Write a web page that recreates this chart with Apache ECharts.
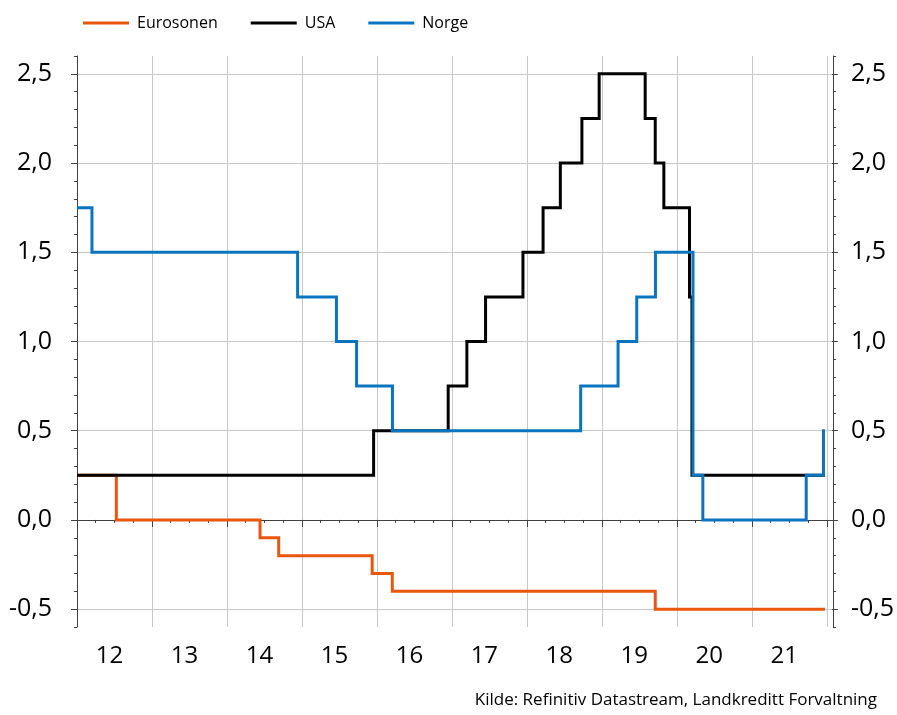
<!DOCTYPE html>
<html>
<head>
<meta charset="utf-8">
<script src="https://cdn.jsdelivr.net/npm/echarts@6/dist/echarts.min.js"></script>
<style>
  html, body { margin: 0; padding: 0; background: #fff; }
  #chart { width: 897px; height: 715px; }
</style>
</head>
<body>
<div id="chart"></div>
<script>
// Policy rates (%), stored as the date of each rate decision and the new rate.
const euroDates = ['2012-01-01', '2012-07-11', '2014-06-11', '2014-09-10', '2015-12-09', '2016-03-16', '2019-09-18', '2021-12-23'];
const euroRates = [0.25, 0.0, -0.1, -0.2, -0.3, -0.4, -0.5, -0.5];

const usaDates = ['2012-01-01', '2015-12-16', '2016-12-14', '2017-03-15', '2017-06-14', '2017-12-13', '2018-03-21', '2018-06-13', '2018-09-26', '2018-12-19', '2019-07-31', '2019-09-18', '2019-10-30', '2020-03-03', '2020-03-15', '2021-12-23'];
const usaRates = [0.25, 0.5, 0.75, 1.0, 1.25, 1.5, 1.75, 2.0, 2.25, 2.5, 2.25, 2.0, 1.75, 1.25, 0.25, 0.25];

const norgeDates = ['2012-01-01', '2012-03-14', '2014-12-11', '2015-06-18', '2015-09-24', '2016-03-17', '2018-09-20', '2019-03-21', '2019-06-20', '2019-09-19', '2020-03-20', '2020-05-07', '2021-09-23', '2021-12-16', '2021-12-23'];
const norgeRates = [1.75, 1.5, 1.25, 1.0, 0.75, 0.5, 0.75, 1.0, 1.25, 1.5, 0.25, 0.0, 0.25, 0.5, 0.5];

const seriesNames = ['Eurosonen', 'USA', 'Norge'];
const seriesColors = ['#E9560E', '#000000', '#0B74C1'];

// Axis settings
const xStart = 2012;
const xEnd = 2022 + 1 / 12;
const yTickLabels = [-0.5, 0, 0.5, 1.0, 1.5, 2.0, 2.5];
const sourceText = 'Kilde: Refinitiv Datastream, Landkreditt Forvaltning';

const FONT = "'Open Sans', 'Noto Sans', sans-serif";
const AXIS_COLOR = '#404040';
const GRID_COLOR = '#c8c8c8';

// 'YYYY-MM-DD' -> fractional year
function toYear(s) {
  const [y, m, d] = s.split('-').map(Number);
  const start = Date.UTC(y, 0, 1);
  const next = Date.UTC(y + 1, 0, 1);
  return y + (Date.UTC(y, m - 1, d) - start) / (next - start);
}
function pairs(dates, rates) {
  return dates.map((d, i) => [toYear(d), rates[i]]);
}
function fmtRate(v) {
  return v.toFixed(1).replace('.', ',');
}

const chart = echarts.init(document.getElementById('chart'), null, { renderer: 'canvas' });

const yMinorAxis = (pos) => ({
  type: 'value', gridIndex: 0, position: pos,
  min: -0.6, max: 2.6, interval: 0.1,
  axisLine: { show: true, lineStyle: { color: AXIS_COLOR, width: 1 } },
  axisTick: { show: true, length: 3, inside: false, lineStyle: { color: AXIS_COLOR } },
  axisLabel: { show: false },
  splitLine: { show: false }
});

const yMajorAxis = (pos, margin, withGrid) => ({
  type: 'value', gridIndex: 1, position: pos,
  min: yTickLabels[0], max: yTickLabels[yTickLabels.length - 1], interval: 0.5,
  axisLine: { show: false },
  axisTick: { show: true, length: 6, inside: false, lineStyle: { color: AXIS_COLOR } },
  axisLabel: {
    show: true, margin: margin, color: '#000', fontFamily: FONT, fontSize: 25,
    formatter: fmtRate
  },
  splitLine: {
    show: withGrid,
    lineStyle: {
      width: 1,
      color: yTickLabels.map(v => (v === 0 ? '#404040' : GRID_COLOR))
    }
  }
});

const option = {
  animation: false,
  backgroundColor: '#ffffff',
  legend: {
    data: seriesNames,
    left: 83, top: 12, padding: 0,
    icon: 'rect', itemWidth: 46, itemHeight: 3, itemGap: 33,
    textStyle: { fontFamily: FONT, fontSize: 16, color: '#000', padding: [0, 0, 0, 3], lineHeight: 22 }
  },
  grid: [
    { left: 77, right: 64, top: 56, bottom: 88 },
    { left: 77, right: 64, top: 74, bottom: 106 }
  ],
  xAxis: [
    {
      // quarterly minor ticks, year grid lines and year labels
      type: 'value', gridIndex: 0, position: 'bottom',
      min: xStart, max: xEnd, interval: 0.25,
      axisLine: { show: true, lineStyle: { color: AXIS_COLOR, width: 1 } },
      axisTick: { show: true, length: 3, lineStyle: { color: AXIS_COLOR } },
      axisLabel: {
        show: true, margin: 17, color: '#000', fontFamily: FONT, fontSize: 24,
        padding: [0, 10, 0, 0],
        showMinLabel: true, showMaxLabel: true,
        formatter: (v) => {
          const f = v - Math.floor(v);
          return Math.abs(f - 0.5) < 1e-6 ? String(Math.floor(v) % 100) : '';
        }
      },
      splitLine: {
        show: true,
        lineStyle: { width: 1, color: [GRID_COLOR, 'rgba(0,0,0,0)', 'rgba(0,0,0,0)', 'rgba(0,0,0,0)'] }
      }
    },
    {
      // longer ticks at each new year
      type: 'value', gridIndex: 0, position: 'bottom', offset: 0,
      min: xStart, max: xEnd, interval: 1,
      axisLine: { show: false },
      axisTick: { show: true, length: 7, lineStyle: { color: AXIS_COLOR } },
      axisLabel: { show: false },
      splitLine: { show: false }
    },
    { type: 'value', gridIndex: 1, min: xStart, max: xEnd, show: false }
  ],
  yAxis: [
    yMinorAxis('left'),
    yMinorAxis('right'),
    yMajorAxis('left', 25, true),
    yMajorAxis('right', 19, false)
  ],
  series: [
    { name: seriesNames[0], data: pairs(euroDates, euroRates) },
    { name: seriesNames[1], data: pairs(usaDates, usaRates) },
    { name: seriesNames[2], data: pairs(norgeDates, norgeRates) }
  ].map((s, i) => ({
    type: 'line', name: s.name, data: s.data,
    xAxisIndex: 0, yAxisIndex: 0,
    step: 'end', symbol: 'none', showSymbol: false,
    color: seriesColors[i],
    lineStyle: { color: seriesColors[i], width: 3, join: 'miter' },
    z: 3 + i
  })),
  graphic: [
    {
      type: 'text', right: 20, top: 692,
      style: { text: sourceText, fill: '#000', font: "17px 'Open Sans', 'Noto Sans', sans-serif" }
    }
  ]
};

chart.setOption(option);
</script>
</body>
</html>
